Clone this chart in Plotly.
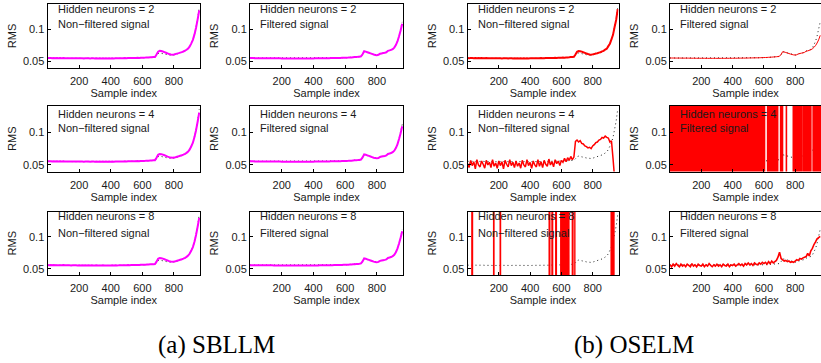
import plotly.graph_objects as go

W, H = 821, 363

# ---------------- data ----------------
sample_idx = list(range(0, 961, 10))  # sample index positions (0..960)

target_raw = [
    0.0555, 0.0557, 0.0554, 0.0556, 0.0553, 0.0555, 0.0554, 0.0556, 0.0553, 0.0554, 0.0555,
    0.0552, 0.0554, 0.0551, 0.0553, 0.0552, 0.0550, 0.0552, 0.0551, 0.0553, 0.0552,
    0.0550, 0.0551, 0.0552, 0.0550, 0.0551, 0.0553, 0.0551, 0.0550, 0.0552, 0.0551,
    0.0550, 0.0552, 0.0551, 0.0549, 0.0551, 0.0550, 0.0552, 0.0550, 0.0549, 0.0551,
    0.0550, 0.0552, 0.0551, 0.0553, 0.0552, 0.0551, 0.0553, 0.0552, 0.0554, 0.0553,
    0.0555, 0.0554, 0.0556, 0.0555, 0.0557, 0.0556, 0.0558, 0.0557, 0.0559, 0.0560,
    0.0561, 0.0562, 0.0563, 0.0564, 0.0566, 0.0567, 0.0569, 0.0570,
    0.0595, 0.0625, 0.0635, 0.0632, 0.0626, 0.0619, 0.0613, 0.0607, 0.0602, 0.0598,
    0.0598, 0.0603, 0.0610, 0.0618, 0.0626, 0.0634, 0.0643, 0.0653, 0.0665, 0.0680,
    0.0700, 0.0735, 0.0780, 0.0840, 0.0920, 0.1030, 0.1170, 0.1350,
]

target_filt = [
    0.0556, 0.0556, 0.0555, 0.0555, 0.0555, 0.0554, 0.0554, 0.0554, 0.0554, 0.0553, 0.0553,
    0.0553, 0.0553, 0.0552, 0.0552, 0.0552, 0.0552, 0.0552, 0.0551, 0.0551, 0.0551,
    0.0551, 0.0551, 0.0551, 0.0551, 0.0551, 0.0550, 0.0550, 0.0550, 0.0550, 0.0550,
    0.0550, 0.0550, 0.0550, 0.0550, 0.0550, 0.0550, 0.0551, 0.0551, 0.0551, 0.0551,
    0.0551, 0.0552, 0.0552, 0.0552, 0.0553, 0.0553, 0.0553, 0.0554, 0.0554, 0.0555,
    0.0555, 0.0556, 0.0556, 0.0557, 0.0557, 0.0558, 0.0558, 0.0559, 0.0560, 0.0561,
    0.0562, 0.0563, 0.0564, 0.0566, 0.0567, 0.0569, 0.0571, 0.0573,
    0.0575, 0.0580, 0.0610, 0.0655, 0.0650, 0.0642, 0.0634, 0.0626, 0.0618, 0.0610,
    0.0604, 0.0602, 0.0606, 0.0620, 0.0627, 0.0632, 0.0637, 0.0645, 0.0665, 0.0672,
    0.0680, 0.0692, 0.0715, 0.0755, 0.0815, 0.0900, 0.1000, 0.1120,
]

sbllm_raw = [
    0.0556, 0.0555, 0.0557, 0.0554, 0.0556, 0.0554, 0.0555, 0.0553, 0.0555, 0.0554, 0.0556,
    0.0553, 0.0554, 0.0552, 0.0554, 0.0551, 0.0553, 0.0552, 0.0554, 0.0551, 0.0553,
    0.0551, 0.0553, 0.0550, 0.0552, 0.0551, 0.0553, 0.0550, 0.0552, 0.0551, 0.0550,
    0.0552, 0.0550, 0.0551, 0.0549, 0.0552, 0.0550, 0.0551, 0.0549, 0.0551, 0.0550,
    0.0552, 0.0550, 0.0553, 0.0551, 0.0552, 0.0554, 0.0552, 0.0553, 0.0555, 0.0554,
    0.0556, 0.0555, 0.0557, 0.0556, 0.0558, 0.0557, 0.0559, 0.0558, 0.0560, 0.0561,
    0.0562, 0.0563, 0.0565, 0.0566, 0.0568, 0.0569, 0.0571, 0.0573,
    0.0610, 0.0655, 0.0668, 0.0665, 0.0658, 0.0648, 0.0638, 0.0628, 0.0619, 0.0612,
    0.0609, 0.0612, 0.0618, 0.0625, 0.0632, 0.0640, 0.0648, 0.0658, 0.0670, 0.0685,
    0.0705, 0.0738, 0.0785, 0.0840, 0.0925, 0.1030, 0.1160, 0.1300,
]

sbllm_filt = [
    0.0555, 0.0555, 0.0555, 0.0554, 0.0554, 0.0554, 0.0554, 0.0553, 0.0553, 0.0553, 0.0553,
    0.0552, 0.0552, 0.0552, 0.0552, 0.0551, 0.0551, 0.0551, 0.0551, 0.0551, 0.0550,
    0.0550, 0.0550, 0.0550, 0.0550, 0.0550, 0.0550, 0.0549, 0.0549, 0.0549, 0.0549,
    0.0549, 0.0549, 0.0549, 0.0549, 0.0549, 0.0550, 0.0550, 0.0550, 0.0550, 0.0550,
    0.0551, 0.0551, 0.0551, 0.0552, 0.0552, 0.0552, 0.0553, 0.0553, 0.0554, 0.0554,
    0.0555, 0.0555, 0.0556, 0.0556, 0.0557, 0.0557, 0.0558, 0.0559, 0.0560, 0.0561,
    0.0562, 0.0563, 0.0565, 0.0566, 0.0568, 0.0570, 0.0572, 0.0574,
    0.0577, 0.0582, 0.0615, 0.0662, 0.0656, 0.0647, 0.0638, 0.0629, 0.0620, 0.0611,
    0.0604, 0.0601, 0.0606, 0.0622, 0.0628, 0.0633, 0.0638, 0.0646, 0.0668, 0.0675,
    0.0683, 0.0695, 0.0718, 0.0758, 0.0815, 0.0895, 0.0985, 0.1090,
]

oselm_raw_h2 = [
    0.0557, 0.0554, 0.0556, 0.0555, 0.0553, 0.0556, 0.0554, 0.0555, 0.0553, 0.0556, 0.0554,
    0.0552, 0.0555, 0.0553, 0.0551, 0.0554, 0.0552, 0.0553, 0.0551, 0.0554, 0.0552,
    0.0553, 0.0550, 0.0552, 0.0551, 0.0553, 0.0550, 0.0552, 0.0551, 0.0549, 0.0552,
    0.0550, 0.0552, 0.0549, 0.0551, 0.0550, 0.0552, 0.0549, 0.0551, 0.0550, 0.0552,
    0.0551, 0.0553, 0.0551, 0.0552, 0.0554, 0.0552, 0.0555, 0.0553, 0.0554, 0.0556,
    0.0555, 0.0557, 0.0556, 0.0558, 0.0556, 0.0559, 0.0558, 0.0560, 0.0559, 0.0561,
    0.0563, 0.0562, 0.0565, 0.0566, 0.0567, 0.0570, 0.0571, 0.0574,
    0.0612, 0.0652, 0.0665, 0.0662, 0.0656, 0.0646, 0.0637, 0.0627, 0.0618, 0.0611,
    0.0608, 0.0613, 0.0617, 0.0626, 0.0631, 0.0641, 0.0647, 0.0660, 0.0668, 0.0688,
    0.0702, 0.0742, 0.0780, 0.0848, 0.0918, 0.1040, 0.1150, 0.1320,
]

oselm_filt_h2 = [
    0.0557, 0.0556, 0.0556, 0.0556, 0.0555, 0.0555, 0.0555, 0.0555, 0.0554, 0.0554, 0.0554,
    0.0554, 0.0554, 0.0553, 0.0553, 0.0553, 0.0553, 0.0552, 0.0552, 0.0552, 0.0552,
    0.0552, 0.0552, 0.0551, 0.0551, 0.0551, 0.0551, 0.0551, 0.0551, 0.0551, 0.0551,
    0.0551, 0.0551, 0.0551, 0.0551, 0.0551, 0.0552, 0.0552, 0.0552, 0.0552, 0.0552,
    0.0553, 0.0553, 0.0553, 0.0554, 0.0554, 0.0554, 0.0555, 0.0555, 0.0556, 0.0556,
    0.0557, 0.0557, 0.0558, 0.0558, 0.0559, 0.0559, 0.0560, 0.0561, 0.0562, 0.0563,
    0.0564, 0.0565, 0.0567, 0.0568, 0.0570, 0.0572, 0.0574, 0.0576,
    0.0579, 0.0584, 0.0612, 0.0655, 0.0650, 0.0642, 0.0634, 0.0626, 0.0618, 0.0611,
    0.0605, 0.0603, 0.0607, 0.0621, 0.0627, 0.0632, 0.0637, 0.0645, 0.0662, 0.0668,
    0.0675, 0.0685, 0.0700, 0.0722, 0.0750, 0.0790, 0.0840, 0.0910,
]

oselm_raw_h4 = [
    0.052, 0.046, 0.057, 0.049, 0.055, 0.044, 0.058, 0.050, 0.047, 0.056, 0.051,
    0.045, 0.057, 0.050, 0.054, 0.046, 0.058, 0.048, 0.053, 0.045, 0.056,
    0.049, 0.055, 0.044, 0.057, 0.051, 0.047, 0.058, 0.049, 0.054, 0.046,
    0.056, 0.048, 0.053, 0.045, 0.057, 0.050, 0.047, 0.058, 0.049, 0.054,
    0.045, 0.056, 0.050, 0.047, 0.058, 0.048, 0.055, 0.046, 0.057, 0.051,
    0.048, 0.059, 0.050, 0.055, 0.047, 0.058, 0.052, 0.056, 0.049, 0.057,
    0.054, 0.060, 0.055, 0.061, 0.057, 0.063, 0.058, 0.062,
    0.086, 0.088, 0.085, 0.087, 0.083, 0.082, 0.079, 0.078, 0.076, 0.077,
    0.075, 0.079, 0.081, 0.084, 0.085, 0.088, 0.089, 0.092, 0.091, 0.094,
    0.092, 0.091, 0.085, 0.087, 0.060, 0.030, 0.028, 0.035,
]

# OSELM, 4 neurons, filtered: output diverges far off scale (values beyond the axis)
oselm_filt_h4_x = [
    0, 8, 16, 24, 32, 40, 48, 56, 64, 72, 80, 88, 96, 104, 112, 120, 128, 136, 144, 152,
    160, 168, 176, 184, 192, 200, 208, 216, 224, 232, 240, 248, 256, 264, 272, 280, 288, 296,
    304, 312, 320, 328, 336, 344, 352, 360, 368, 376, 384, 392, 400, 408, 416, 424, 432, 440,
    448, 456, 464, 472, 480, 488, 496, 504, 512, 520, 528, 536, 544, 552, 560, 568, 576, 584,
    592, 600, 608,
    620, 628, 636, 644, 652, 660, 668, 676, 684, 692, 704, 710, 716, 722, 740, 748, 784,
    792, 800, 808, 816, 824, 832, 840, 844, 850, 856, 864, 872, 880, 888, 896, 904, 912,
    918, 926, 934, 942, 950, 958, 966,
]
oselm_filt_h4_y = [
    9, -9, 9, -9, 9, -9, 9, -9, 9, -9, 9, -9, 9, -9, 9, -9, 9, -9, 9, -9,
    9, -9, 9, -9, 9, -9, 9, -9, 9, -9, 9, -9, 9, -9, 9, -9, 9, -9,
    9, -9, 9, -9, 9, -9, 9, -9, 9, -9, 9, -9, 9, -9, 9, -9, 9, -9,
    9, -9, 9, -9, 9, -9, 9, -9, 9, -9, 9, -9, 9, -9, 9, -9, 9, -9,
    9, -9, 9,
    9, -9, 9, -9, 9, -9, 9, -9, 9, -9, -9, 9, -9, 9, 9, -9, -9,
    9, -9, 9, -9, 9, -9, 9, -9, -9, 9, -9, 9, -9, 9, -9, 9, 9,
    -9, 9, -9, 9, -9, 9, -9,
]

# OSELM, 8 neurons, non-filtered: off scale except for sudden crossings
oselm_raw_h8_x = [
    0, 26, 30, 34, 166, 168, 170, 208, 210, 212, 520, 524, 528, 538, 542, 546,
    562, 566, 570, 594, 598, 602, 606, 612, 616, 620, 626, 632, 636, 642, 646, 650,
    668, 672, 676, 684, 688, 916, 920, 924, 930, 934, 938, 960,
]
oselm_raw_h8_y = [
    9, 9, -9, 9, 9, -9, 9, 9, -9, 9, 9, -9, 9, 9, -9, 9,
    9, -9, 9, 9, -9, 9, -9, 9, -9, 9, -9, 9, -9, 9, -9, 9,
    9, -9, 9, 9, -9, -9, 9, -9, 9, -9, 9, 9,
]

oselm_filt_h8 = [
    0.056, 0.053, 0.057, 0.054, 0.058, 0.055, 0.053, 0.057, 0.054, 0.056, 0.053,
    0.057, 0.055, 0.053, 0.058, 0.054, 0.056, 0.053, 0.057, 0.055, 0.054,
    0.057, 0.053, 0.056, 0.054, 0.058, 0.055, 0.053, 0.056, 0.054, 0.057,
    0.054, 0.056, 0.053, 0.057, 0.055, 0.054, 0.057, 0.053, 0.056, 0.055,
    0.057, 0.054, 0.056, 0.058, 0.055, 0.057, 0.054, 0.058, 0.056, 0.059,
    0.056, 0.058, 0.055, 0.059, 0.057, 0.056, 0.059, 0.057, 0.060, 0.058,
    0.060, 0.057, 0.061, 0.058, 0.062, 0.059, 0.061, 0.063,
    0.068, 0.076, 0.066, 0.064, 0.062, 0.063, 0.061, 0.062, 0.060, 0.061,
    0.060, 0.062, 0.064, 0.063, 0.066, 0.065, 0.067, 0.068, 0.069, 0.074,
    0.070, 0.078, 0.082, 0.088, 0.092, 0.097, 0.099, 0.101,
]

neurons = [2, 4, 8]
signal_labels = ["Non\u2212filtered signal", "Filtered signal"]
x_ticks = [200, 400, 600, 800]
y_ticks = [0.05, 0.1]
y_ticktext = ["0.05", "0.1"]
captions = ["(a) SBLLM", "(b) OSELM"]

# ---------------- styling / layout ----------------
MAGENTA = "#ff00ff"
RED = "#ff0000"
SANS = "Liberation Sans, Arial, sans-serif"
SERIF = "Liberation Serif, Times New Roman, serif"
TXT = "#1a1a1a"

col_px = [(47.5, 200.0), (250.0, 403.0), (467.5, 618.5), (670.0, 821.0)]
row_px = [(4.0, 68.0), (106.0, 171.5), (211.5, 275.0)]
text_rows = [(9.3, 24.0), (113.5, 128.3), (216.3, 232.5)]
caption_pos = [(216, 345), (634, 345)]

panels = {}
for r in range(3):
    panels[(r, 0)] = (target_raw, sample_idx, sbllm_raw, MAGENTA, 2.0)
    panels[(r, 1)] = (target_filt, sample_idx, sbllm_filt, MAGENTA, 2.0)
panels[(0, 2)] = (target_raw, sample_idx, oselm_raw_h2, RED, 2.0)
panels[(0, 3)] = (target_filt, sample_idx, oselm_filt_h2, RED, 1.0)
panels[(1, 2)] = (target_raw, sample_idx, oselm_raw_h4, RED, 1.5)
panels[(1, 3)] = (target_filt, oselm_filt_h4_x, oselm_filt_h4_y, RED, 1.6)
panels[(2, 2)] = (target_raw, oselm_raw_h8_x, oselm_raw_h8_y, RED, 1.4)
panels[(2, 3)] = (target_filt, sample_idx, oselm_filt_h8, RED, 1.6)

fig = go.Figure()
layout = {}
annotations = []
tickfont = dict(family=SANS, size=11, color=TXT)

for (r, c), (tgt, px_, py_, color, lw) in panels.items():
    k = r * 4 + c + 1
    xa = "x" if k == 1 else f"x{k}"
    ya = "y" if k == 1 else f"y{k}"
    fig.add_trace(go.Scatter(
        x=sample_idx, y=tgt, xaxis=xa, yaxis=ya, mode="lines",
        line=dict(color="#222222", width=1, dash="1px,3px"), hoverinfo="skip"))
    fig.add_trace(go.Scatter(
        x=px_, y=py_, xaxis=xa, yaxis=ya, mode="lines",
        line=dict(color=color, width=lw, simplify=False), hoverinfo="skip"))

    l, rt = col_px[c]
    t, b = row_px[r]
    common = dict(showline=True, linecolor="black", linewidth=1, mirror=True,
                  ticks="inside", ticklen=3, tickwidth=1, tickcolor="black",
                  showgrid=False, zeroline=False, tickfont=tickfont, automargin=False)
    layout[f"xaxis{k}"] = dict(
        domain=[l / W, min(rt / W, 1.0)], range=[0, 965], anchor=ya,
        tickmode="array", tickvals=x_ticks, ticklabelstandoff=3,
        title=dict(text="Sample index", font=dict(family=SANS, size=11, color=TXT), standoff=2),
        **common)
    layout[f"yaxis{k}"] = dict(
        domain=[1 - b / H, 1 - t / H], range=[0.04, 0.14], anchor=xa,
        tickmode="array", tickvals=y_ticks, ticktext=y_ticktext,
        title=dict(text="RMS", font=dict(family=SANS, size=11, color=TXT), standoff=4),
        **common)

    ty1, ty2 = text_rows[r]
    annotations.append(dict(
        x=(l + 8) / W, y=1 - ty1 / H, xref="paper", yref="paper",
        text=f"Hidden neurons = {neurons[r]}", showarrow=False,
        xanchor="left", yanchor="middle", font=dict(family=SANS, size=11, color=TXT)))
    annotations.append(dict(
        x=(l + 8) / W, y=1 - ty2 / H, xref="paper", yref="paper",
        text=signal_labels[c % 2], showarrow=False,
        xanchor="left", yanchor="middle", font=dict(family=SANS, size=11, color=TXT)))

for (cx, cy), txt in zip(caption_pos, captions):
    annotations.append(dict(
        x=cx / W, y=1 - cy / H, xref="paper", yref="paper", text=txt, showarrow=False,
        xanchor="center", yanchor="middle", font=dict(family=SERIF, size=25, color="black")))

fig.update_layout(
    width=W, height=H, margin=dict(l=0, r=0, t=0, b=0),
    paper_bgcolor="white", plot_bgcolor="white", showlegend=False,
    annotations=annotations, **layout)

fig.write_html("out.html")
